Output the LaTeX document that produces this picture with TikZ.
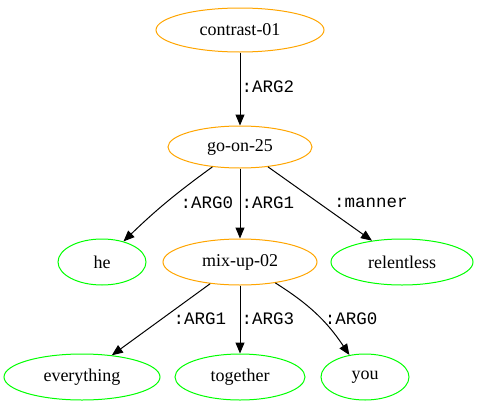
\documentclass[tikz,border=0pt]{standalone}
\usepackage{fontspec}
\setmainfont{Liberation Serif}
\newfontfamily\relfont{Liberation Mono}
\usetikzlibrary{shapes.geometric,arrows.meta}
\definecolor{gvorange}{HTML}{FFA500}
\definecolor{gvgreen}{HTML}{00FF00}

\begin{document}
\begin{tikzpicture}[x=1pt,y=-1pt,
    concept/.style={ellipse,draw=gvorange,line width=1pt,inner sep=0pt,
        font=\fontsize{18}{20}\selectfont},
    leaf/.style={concept,draw=gvgreen},
    rel/.style={inner sep=0pt,font=\relfont\fontsize{17.5}{20}\selectfont},
    edge/.style={-{Triangle[length=11pt,width=9pt]},line width=1pt}]
\useasboundingbox (0,0) rectangle (479,407);
% concepts
\node[concept,minimum width=168pt,minimum height=44pt] (contrast) at (240,30) {contrast-01};
\node[concept,minimum width=144pt,minimum height=42pt] (goon) at (240,147) {go-on-25};
\node[concept,minimum width=154pt,minimum height=46pt] (mixup) at (240,262) {mix-up-02};
% leaves
\node[leaf,minimum width=88pt,minimum height=46pt] (he) at (102,262) {he};
\node[leaf,minimum width=142pt,minimum height=46pt] (relentless) at (402,262) {relentless};
\node[leaf,minimum width=156pt,minimum height=46pt] (everything) at (82,377) {everything};
\node[leaf,minimum width=130pt,minimum height=46pt] (together) at (240,377) {together};
\node[leaf,minimum width=88pt,minimum height=46pt] (you) at (365,377) {you};
% relations
\draw[edge] (contrast) -- (goon);
\draw[edge] (goon) to[bend right=4] (he);
\draw[edge] (goon) -- (mixup);
\draw[edge] (goon) -- (relentless);
\draw[edge] (mixup) -- (everything);
\draw[edge] (mixup) -- (together);
\draw[edge] (mixup) to[bend left=12] (you);
% labels
\node[rel] (l1) at (268,87) {:ARG2};
\node[rel] (l2) at (207,203) {:ARG0};
\node[rel] (l3) at (268,203) {:ARG1};
\node[rel] (l4) at (371,203) {:manner};
\node[rel] (l5) at (200,319) {:ARG1};
\node[rel] (l6) at (268,319) {:ARG3};
\node[rel] (l7) at (351,319) {:ARG0};
\end{tikzpicture}
\end{document}
